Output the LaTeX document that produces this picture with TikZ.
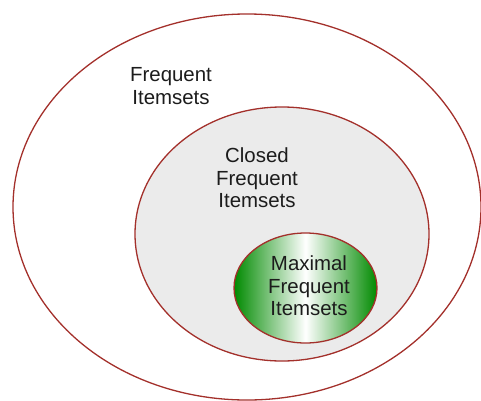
\documentclass[tikz,border=0pt]{standalone}
\usepackage{fontspec}
\setmainfont{Liberation Sans}
\definecolor{rimred}{HTML}{A3302B}
\definecolor{setgray}{HTML}{EBEBEB}
\definecolor{setgreen}{HTML}{008A00}
\definecolor{labelink}{HTML}{1C1C1C}

\begin{document}
\begin{tikzpicture}[x=1bp, y=1bp,
    rim/.style={draw=rimred, line width=1.3bp},
    setlabel/.style={align=center, text=labelink, font=\fontsize{20.5}{22.5}\selectfont}]
    \useasboundingbox (0,0) rectangle (481,400);

    % Frequent itemsets (outer set)
    \draw[rim] (247,193) ellipse (234 and 193);
    % Closed frequent itemsets
    \draw[rim, fill=setgray] (282,166) ellipse (147 and 127);
    % Maximal frequent itemsets
    \draw[rim, left color=setgreen, right color=setgreen, middle color=white]
        (305.5,112) ellipse (71.5 and 55);

    % Labels for the sets
    \node[setlabel] (freq) at (171,314) {Frequent\\Itemsets};
    \node[setlabel] (closed) at (257,222) {Closed\\Frequent\\Itemsets};
    \node[setlabel] (maximal) at (309,114) {Maximal\\Frequent\\Itemsets};
\end{tikzpicture}
\end{document}
